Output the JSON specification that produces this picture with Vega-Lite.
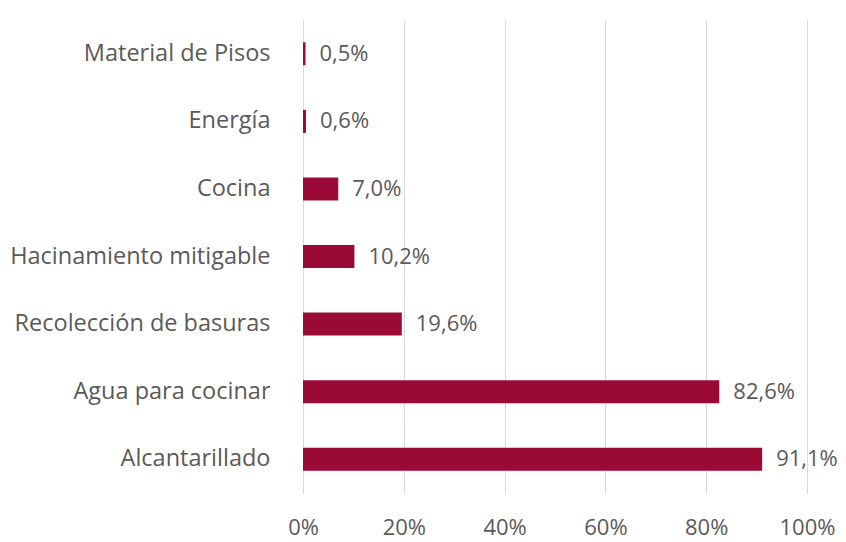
{
  "$schema": "https://vega.github.io/schema/vega-lite/v6.json",
  "width": 504,
  "height": 473,
  "autosize": {"type": "none"},
  "padding": {"left": 303, "top": 20, "right": 39, "bottom": 49},
  "background": "white",
  "config": {
    "view": {"stroke": null},
    "locale": {"number": {"decimal": ",", "thousands": ".", "grouping": [3], "currency": ["", " €"]}},
    "font": "Open Sans"
  },
  "data": {
    "values": [
      {"cat": "Material de Pisos", "v": 0.005},
      {"cat": "Energía", "v": 0.006},
      {"cat": "Cocina", "v": 0.070},
      {"cat": "Hacinamiento mitigable", "v": 0.102},
      {"cat": "Recolección de basuras", "v": 0.196},
      {"cat": "Agua para cocinar", "v": 0.826},
      {"cat": "Alcantarillado", "v": 0.911}
    ]
  },
  "encoding": {
    "y": {
      "field": "cat", "type": "nominal", "sort": null,
      "scale": {"paddingInner": 0.66, "paddingOuter": 0.33},
      "axis": {"title": null, "ticks": false, "domain": false, "labelPadding": 33, "labelFontSize": 23.5, "labelColor": "#5a5a5a", "labelFont": "Open Sans", "labelLimit": 400}
    },
    "x": {
      "field": "v", "type": "quantitative",
      "scale": {"domain": [0, 1], "nice": false},
      "axis": {"title": null, "format": ".0%", "values": [0, 0.2, 0.4, 0.6, 0.8, 1], "ticks": false, "domain": false, "labelFlush": false, "labelPadding": 24, "labelFontSize": 22, "labelColor": "#5a5a5a", "labelFont": "Open Sans", "gridColor": "#d9d9d9", "gridWidth": 1}
    }
  },
  "layer": [
    {"mark": {"type": "bar", "color": "#9b0a36"}},
    {
      "mark": {"type": "text", "align": "left", "dx": 14, "fontSize": 22, "color": "#5a5a5a", "font": "Open Sans"},
      "encoding": {"text": {"field": "v", "type": "quantitative", "format": ".1%"}}
    }
  ]
}
